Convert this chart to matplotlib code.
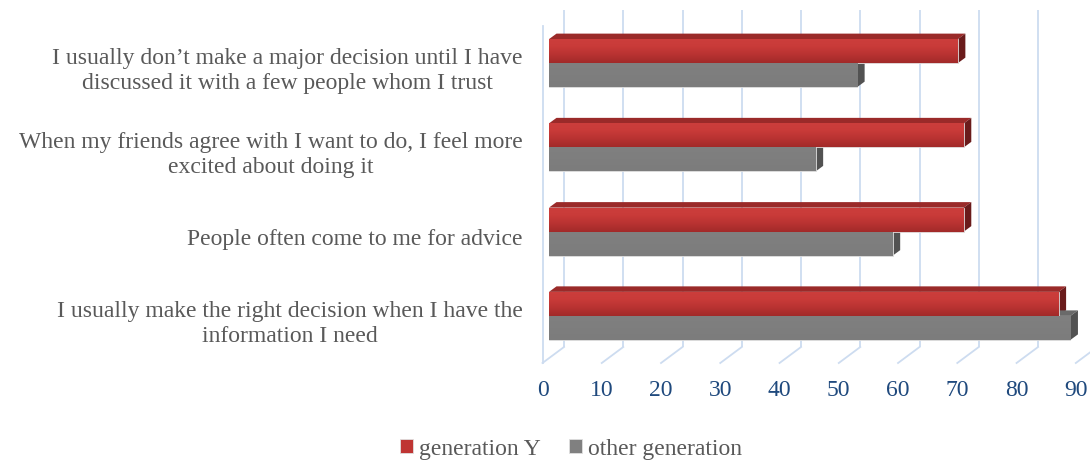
import numpy as np
import matplotlib.pyplot as plt
from matplotlib.patches import Polygon
from matplotlib.colors import LinearSegmentedColormap

# survey statements, bottom to top
categories = [
    'I usually make the right decision when I have the\ninformation I need',
    'People often come to me for advice',
    'When my friends agree with I want to do, I feel more\nexcited about doing it',
    'I usually don\u2019t make a major decision until I have\ndiscussed it with a few people whom I trust',
]
gen_y = [86, 70, 70, 69]
other_gen = [88, 58, 45, 52]
series_names = ['generation Y', 'other generation']
x_ticks = list(range(0, 100, 10))

plt.rcParams['font.family'] = ['Liberation Serif', 'DejaVu Serif']

W, H, DPI = 1090, 462, 100
fig = plt.figure(figsize=(W / DPI, H / DPI), dpi=DPI)
ax = fig.add_axes([549 / W, 104 / H, 533.3 / W, 337 / H])
ax.set_xlim(0, 90)
ax.set_ylim(-0.5, 3.5)
ax.set_autoscale_on(False)
ax.axis('off')

# pixel size of one data unit, used for the fake 3d depth offsets
p0 = ax.transData.transform((0, 0))
p1 = ax.transData.transform((1, 1))
ux, uy = p1 - p0


def off(dx, dy):
    return dx / ux, dy / uy


bx, by = off(15, 11)       # back wall
fx, fy = off(-6.5, -5)     # front edge of floor / wall
dx, dy = off(7.5, 5.5)     # bar depth

grid_c = '#cddcf0'
y0, y1 = ax.get_ylim()
for v in x_ticks:
    ax.plot([v + bx, v + bx], [y0 + by, y1 + by], color=grid_c, lw=1.3,
            clip_on=False, zorder=0, solid_capstyle='butt')
    ax.plot([v + fx, v + bx], [y0 + fy, y0 + by], color=grid_c, lw=1.3,
            clip_on=False, zorder=0)
ax.plot([fx, fx], [y0 + fy, y1 + fy], color=grid_c, lw=1.3, clip_on=False, zorder=0)

h = 0.285
y = np.arange(len(categories))

red_cmap = LinearSegmentedColormap.from_list('red3d', ['#a22a29', '#b83231', '#c93b39', '#cc3e3c'])
gray_cmap = LinearSegmentedColormap.from_list('gray3d', ['#7c7c7c', '#808080'])
grad = np.linspace(0, 1, 64).reshape(-1, 1)

series = [
    (gen_y, y + h / 2, '#bf3533', '#9a2a29', '#6a1b1b', red_cmap),
    (other_gen, y - h / 2, '#808080', '#6a6a6a', '#525252', gray_cmap),
]
handles = []
for (vals, ypos, fc, top_c, side_c, cmap), name in zip(series, series_names):
    bars = ax.barh(ypos, vals, height=h, color=fc, edgecolor='#e0e0e0',
                   linewidth=0.6, zorder=3, label=name)
    handles.append(bars)
    for rect, v in zip(bars, vals):
        yb = rect.get_y()
        yt = yb + rect.get_height()
        ax.add_patch(Polygon([(0, yt), (v, yt), (v + dx, yt + dy), (dx, yt + dy)],
                             closed=True, fc=top_c, ec='none', zorder=2))
        ax.add_patch(Polygon([(v, yb), (v + dx, yb + dy), (v + dx, yt + dy), (v, yt)],
                             closed=True, fc=side_c, ec='none', zorder=2))
        im = ax.imshow(grad, cmap=cmap, extent=(0, v, yb, yt), origin='lower',
                       aspect='auto', zorder=3.5, interpolation='bilinear')
        im.set_clip_path(rect)

ax.set_xlim(0, 90)
ax.set_ylim(-0.5, 3.5)

# category labels, right aligned against the left wall
lx, ly = off(-26.5, -8)
for yi, txt in zip(y, categories):
    ax.text(lx, yi + ly, txt, ha='right', va='center', multialignment='center',
            fontsize=17, color='#595959', clip_on=False, linespacing=1.25)

# value axis labels along the front of the floor
_, ty = off(0, -28)
for v in x_ticks:
    ax.text(v + fx, y0 + fy + ty, str(v), ha='center', va='center',
            fontsize=17, color='#1f497d', clip_on=False)

fig.legend(handles=handles, labels=series_names, loc='center',
           bbox_to_anchor=(571 / W, 1 - 449 / H), ncol=2, frameon=False,
           handlelength=0.55, handleheight=0.55, handletextpad=0.25,
           columnspacing=1.2, fontsize=17, labelcolor='#595959')

fig.savefig('out.png', dpi=DPI)
